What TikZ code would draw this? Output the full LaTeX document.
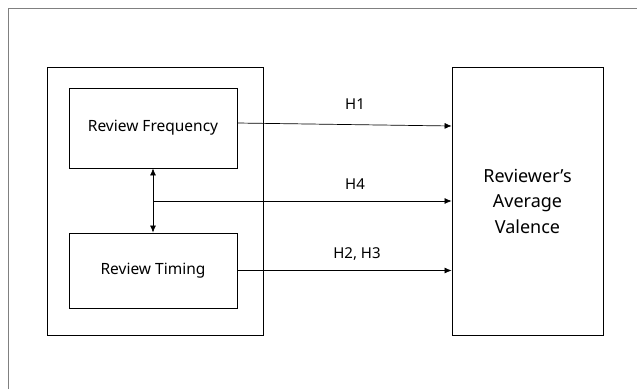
\documentclass[tikz,border=0pt]{standalone}
\usepackage{fontspec}
\setmainfont{Noto Sans}
\usetikzlibrary{arrows.meta, positioning}

\begin{document}
\begin{tikzpicture}[x=1pt, y=-1pt,
        % Define styles for the boxes, arrows and labels
        box/.style={draw, line width=0.8pt, rectangle, inner sep=0pt, font=\fontsize{15.5}{17}\selectfont},
        link/.style={line width=0.7pt, -{Latex[length=7pt, width=6pt]}},
        hyp/.style={font=\fontsize{15}{17}\selectfont}]

        % 1. Page area and the outer frame
        \useasboundingbox (0,0) rectangle (637,389);
        \draw[gray, line width=1pt] (8,389) -- (8,8) -- (637,8);

        % 2. The boxes
        \node[box, minimum width=216pt, minimum height=268pt] (group) at (155,201) {};
        \node[box, minimum width=168pt, minimum height=80pt] (freq) at (153,128) {Review Frequency};
        \node[box, minimum width=168pt, minimum height=75pt] (timing) at (153,270.5) {Review Timing};
        \node[box, minimum width=151pt, minimum height=268pt, align=center,
              font=\fontsize{18}{25.5}\selectfont] (valence) at (527.5,201) {Reviewer’s\\Average\\Valence};

        % 3. The arrows
        \coordinate (split) at (freq.south |- 0,201);
        \draw[line width=0.7pt, {Latex[length=7pt, width=6pt]}-{Latex[length=7pt, width=6pt]}] (freq) -- (timing);
        \draw[link] ([yshift=5pt]freq.east) -- ([yshift=2pt]valence.west |- freq.east);
        \draw[link] (split) -- (valence.west |- split);
        \draw[link] (timing) -- (valence.west |- timing);

        % 4. The hypothesis labels
        \node[hyp] (h1) at (355,104.5) {H1};
        \node[hyp] (h4) at (355,184.5) {H4};
        \node[hyp] (h23) at (357,254.5) {H2, H3};

    \end{tikzpicture}
\end{document}
